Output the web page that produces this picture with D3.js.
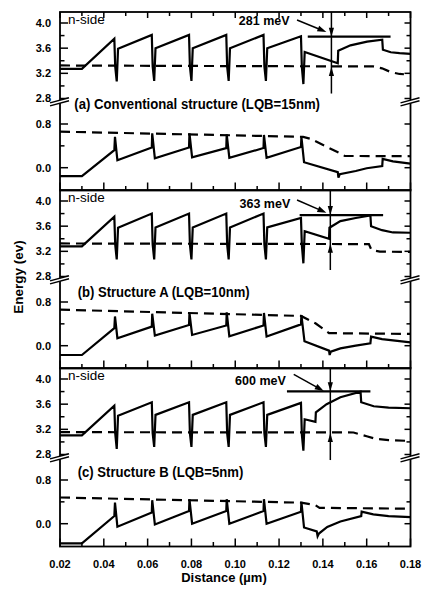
<!DOCTYPE html>
<html lang="en">
<head>
<meta charset="UTF-8" />
<title>Band diagrams</title>
<script src="https://d3js.org/d3.v7.min.js"></script>
<style>
  body { margin: 0; background: #fff; }
  svg text { font-family: "Liberation Sans", Arial, Helvetica, sans-serif; fill: #000; }
  .bold { font-weight: bold; }
  .frame { fill: none; stroke: #000; stroke-width: 1.8; }
  .tick { stroke: #000; stroke-width: 1.5; }
  .band { fill: none; stroke: #000; stroke-width: 2.2; stroke-linejoin: miter; }
  .fermi { fill: none; stroke: #000; stroke-width: 2.2; stroke-dasharray: 10,6; }
</style>
</head>
<body>
<div id="chart"></div>
<script>
// x ticks (µm)
const xMajor = [0.02, 0.04, 0.06, 0.08, 0.10, 0.12, 0.14, 0.16, 0.18];
const xMinor = [0.03, 0.05, 0.07, 0.09, 0.11, 0.13, 0.15, 0.17];
// energy ticks (eV), broken axis
const upMajor = [2.8, 3.2, 3.6, 4.0];
const upMinor = [3.0, 3.4, 3.8];
const loMajor = [0.0, 0.8];
const loMinor = [0.4];

const panelLabels = [
  '(a) Conventional structure (LQB=15nm)',
  '(b) Structure A (LQB=10nm)',
  '(c) Structure B (LQB=5nm)'
];

// conduction band (solid, upper part)
const cbA = [
  [0.020,3.27],[0.030,3.27],
  [0.0448,3.75],[0.0452,3.31],[0.0459,3.07],[0.0465,3.59],
  [0.0619,3.81],[0.0623,3.31],[0.0630,3.08],[0.0636,3.60],
  [0.0789,3.81],[0.0793,3.31],[0.0800,3.08],[0.0806,3.60],
  [0.0959,3.81],[0.0963,3.31],[0.0970,3.08],[0.0976,3.60],
  [0.1129,3.81],[0.1133,3.31],[0.1140,3.08],[0.1146,3.60],
  [0.1300,3.79],[0.1304,3.30],[0.1311,3.03],[0.1317,3.54],
  [0.1468,3.36],[0.1470,3.56],[0.1526,3.645],[0.1602,3.705],[0.1671,3.735],
  [0.1674,3.575],[0.1710,3.535],[0.1750,3.52],[0.1800,3.51]
];
const cbB = [
  [0.020,3.28],[0.030,3.28],
  [0.0448,3.75],[0.0452,3.31],[0.0459,3.07],[0.0465,3.575],
  [0.0619,3.80],[0.0623,3.31],[0.0630,3.07],[0.0636,3.58],
  [0.0789,3.80],[0.0793,3.31],[0.0800,3.07],[0.0806,3.58],
  [0.0959,3.80],[0.0963,3.31],[0.0970,3.07],[0.0976,3.58],
  [0.1129,3.80],[0.1133,3.31],[0.1140,3.07],[0.1146,3.58],
  [0.1300,3.73],[0.1304,3.30],[0.1311,3.01],[0.1317,3.52],
  [0.1428,3.40],[0.1430,3.575],[0.1480,3.68],[0.1550,3.73],[0.1617,3.77],
  [0.1620,3.60],[0.1670,3.536],[0.1720,3.50],[0.1800,3.495]
];
const cbC = [
  [0.020,3.105],[0.030,3.105],
  [0.0448,3.576],[0.0452,3.14],[0.0459,2.89],[0.0465,3.417],
  [0.0619,3.63],[0.0623,3.14],[0.0630,2.92],[0.0636,3.43],
  [0.0789,3.63],[0.0793,3.14],[0.0800,2.92],[0.0806,3.43],
  [0.0959,3.63],[0.0963,3.14],[0.0970,2.92],[0.0976,3.43],
  [0.1129,3.63],[0.1133,3.14],[0.1140,2.92],[0.1146,3.43],
  [0.1300,3.62],[0.1304,3.12],[0.1311,2.86],[0.1317,3.36],
  [0.1366,3.32],[0.1368,3.47],[0.1417,3.60],[0.1480,3.71],[0.1572,3.80],
  [0.1575,3.63],[0.1632,3.567],[0.1700,3.545],[0.1800,3.535]
];

// electron quasi-Fermi level (dashed, upper part)
const efnA = [[0.020,3.325],[0.100,3.315],[0.163,3.31],[0.167,3.28],[0.171,3.22],[0.175,3.19],[0.177,3.185]];
const efnB = [[0.020,3.325],[0.161,3.315],[0.1622,3.22],[0.166,3.195],[0.180,3.19]];
const efnC = [[0.020,3.155],[0.154,3.15],[0.160,3.09],[0.164,3.05],[0.170,3.03],[0.180,3.015]];

// valence band (solid, lower part)
const vbA = [
  [0.020,-0.155],[0.030,-0.155],
  [0.0448,0.32],[0.0451,0.565],[0.0462,0.135],
  [0.0619,0.37],[0.0621,0.63],[0.0633,0.17],
  [0.0789,0.37],[0.0791,0.63],[0.0803,0.19],
  [0.0959,0.36],[0.0961,0.61],[0.0973,0.18],
  [0.1129,0.36],[0.1131,0.60],[0.1143,0.18],
  [0.1300,0.38],[0.1302,0.566],[0.1314,0.10],
  [0.1468,-0.08],[0.1471,-0.18],[0.1477,-0.12],[0.1550,-0.06],[0.1600,-0.01],[0.1671,0.03],
  [0.1673,0.16],[0.1720,0.115],[0.1800,0.075]
];
const vbB = [
  [0.020,-0.17],[0.030,-0.17],
  [0.0448,0.32],[0.0451,0.535],[0.0462,0.137],
  [0.0619,0.35],[0.0621,0.585],[0.0633,0.185],
  [0.0789,0.38],[0.0791,0.60],[0.0803,0.197],
  [0.0959,0.37],[0.0961,0.61],[0.0973,0.17],
  [0.1129,0.37],[0.1131,0.60],[0.1143,0.17],
  [0.1300,0.39],[0.1302,0.56],[0.1316,0.08],
  [0.1428,-0.09],[0.1431,-0.17],[0.1436,-0.11],[0.1480,-0.05],[0.1550,0.0],[0.1617,0.044],
  [0.1620,0.166],[0.1670,0.12],[0.1800,0.06]
];
const vbC = [
  [0.020,-0.36],[0.030,-0.36],
  [0.0448,0.14],[0.0451,0.387],[0.0462,-0.055],
  [0.0619,0.203],[0.0621,0.43],[0.0633,-0.013],
  [0.0789,0.232],[0.0791,0.448],[0.0803,0.0],
  [0.0959,0.232],[0.0961,0.448],[0.0973,0.0],
  [0.1129,0.232],[0.1131,0.448],[0.1143,0.0],
  [0.1300,0.22],[0.1302,0.40],[0.1314,-0.07],
  [0.1372,-0.14],[0.1376,-0.23],[0.1382,-0.18],[0.1420,-0.06],[0.1480,0.04],[0.1575,0.14],
  [0.1577,0.22],[0.1630,0.17],[0.1700,0.14],[0.1800,0.12]
];

// hole quasi-Fermi level (dashed, lower part)
const efpA = [[0.020,0.66],[0.1310,0.565],[0.1343,0.53],[0.1480,0.26],[0.1500,0.215],[0.1800,0.21]];
const efpB = [[0.020,0.66],[0.1300,0.545],[0.1366,0.41],[0.1428,0.23],[0.1800,0.215]];
const efpC = [[0.020,0.48],[0.1300,0.385],[0.1366,0.34],[0.1385,0.29],[0.1800,0.275]];

// barrier height annotations
const annText  = ['281 meV', '363 meV', '600 meV'];
const annTextX = [0.1248, 0.1251, 0.1231];
const annTextV = [3.968, 3.884, 3.905];
const annArrowFrom = [[0.1282,4.048],[0.1282,4.016],[0.1267,4.075]];
const annArrowTo   = [[0.1416,3.857],[0.1416,3.814],[0.1404,3.809]];
const annBarV  = [3.782, 3.777, 3.804];
const annBarX  = [[0.1331,0.1709],[0.1294,0.1675],[0.1236,0.1617]];
const annMarkX = [0.1439, 0.1434, 0.1434];
const annMarkBottom = [2.879, 2.903, 2.712];
const annEfnV  = [3.30, 3.32, 3.14];

const panels = [
  { cb: cbA, efn: efnA, vb: vbA, efp: efpA },
  { cb: cbB, efn: efnB, vb: vbB, efp: efpB },
  { cb: cbC, efn: efnC, vb: vbC, efp: efpC }
];

const W = 423, H = 595;
const left = 60, right = 410.5;
const panelTop = [12, 190, 368], panelH = 178.5;
const breakOff = 88.5;
const labelBase = [109, 297, 476.7];
const labelWidth = [245.7, 172, 165.6];
const labelX = [74.3, 77.7, 77.7];

const svg = d3.select('#chart').append('svg')
  .attr('width', W).attr('height', H);

const x = d3.scaleLinear().domain([0.02, 0.18]).range([left, right]);

const line = (y) => d3.line().x(d => x(d[0])).y(d => y(d[1]));

function arrowHead(g, tx, ty, ang, len, hw) {
  // tip at (tx,ty), pointing along angle ang (radians)
  const bx = tx - len * Math.cos(ang), by = ty - len * Math.sin(ang);
  const px = -Math.sin(ang) * hw, py = Math.cos(ang) * hw;
  g.append('path')
    .attr('d', `M${tx},${ty}L${bx + px},${by + py}L${bx - px},${by - py}Z`)
    .attr('fill', '#000');
}

panels.forEach((p, i) => {
  const top = panelTop[i];
  const bottom = top + panelH;
  const yUp = d3.scaleLinear().domain([2.8, 4.0]).range([top + 86.5, top + 11]);
  const yLo = d3.scaleLinear().domain([0.0, 0.8]).range([top + 155.7, top + 112]);
  const g = svg.append('g');

  // curves
  g.append('path').datum(p.efn).attr('class', 'fermi').attr('d', line(yUp));
  g.append('path').datum(p.cb).attr('class', 'band').attr('d', line(yUp));
  g.append('path').datum(p.efp).attr('class', 'fermi').attr('d', line(yLo));
  g.append('path').datum(p.vb).attr('class', 'band').attr('d', line(yLo));

  // frame
  g.append('rect').attr('class', 'frame')
    .attr('x', left).attr('y', top).attr('width', right - left).attr('height', panelH);

  // y ticks, left and right, inward
  const yt = [];
  upMajor.forEach(v => yt.push({ y: yUp(v), major: true }));
  upMinor.forEach(v => yt.push({ y: yUp(v), major: false }));
  loMajor.forEach(v => yt.push({ y: yLo(v), major: true }));
  loMinor.forEach(v => yt.push({ y: yLo(v), major: false }));
  g.selectAll('.ytl').data(yt).join('line').attr('class', 'tick')
    .attr('x1', left).attr('x2', d => left + (d.major ? 8 : 4.5))
    .attr('y1', d => d.y).attr('y2', d => d.y);
  g.selectAll('.ytr').data(yt).join('line').attr('class', 'tick')
    .attr('x1', right).attr('x2', d => right - (d.major ? 6 : 4))
    .attr('y1', d => d.y).attr('y2', d => d.y);

  // y tick labels
  const labs = upMajor.map(v => ({ y: yUp(v), t: v.toFixed(1) }))
    .concat(loMajor.map(v => ({ y: yLo(v), t: v.toFixed(1) })));
  g.selectAll('.ylab').data(labs).join('text').attr('class', 'bold')
    .attr('x', 51).attr('y', d => d.y).attr('dy', '0.35em')
    .attr('text-anchor', 'end').attr('font-size', 11).text(d => d.t);

  // x ticks at bottom, inward
  const xt = xMajor.map(v => ({ v, major: true })).concat(xMinor.map(v => ({ v, major: false })));
  g.selectAll('.xtb').data(xt).join('line').attr('class', 'tick')
    .attr('x1', d => x(d.v)).attr('x2', d => x(d.v))
    .attr('y1', bottom).attr('y2', d => bottom - (d.major ? 8 : 4.5));
  if (i === 0) {
    g.selectAll('.xtt').data(xt).join('line').attr('class', 'tick')
      .attr('x1', d => x(d.v)).attr('x2', d => x(d.v))
      .attr('y1', top).attr('y2', d => top + (d.major ? 6 : 4));
  }

  // axis breaks
  const yb = top + breakOff;
  [left, right].forEach(ax => {
    g.append('path')
      .attr('d', `M${ax - 9},${yb + 2.2}L${ax + 9},${yb - 2.8}L${ax + 9},${yb + 0.2}L${ax - 9},${yb + 5.2}Z`)
      .attr('fill', '#fff');
    g.append('line').attr('class', 'tick')
      .attr('x1', ax - 10).attr('y1', yb + 2.4).attr('x2', ax + 9).attr('y2', yb - 2.8);
    g.append('line').attr('class', 'tick')
      .attr('x1', ax - 10).attr('y1', yb + 5.4).attr('x2', ax + 9).attr('y2', yb + 0.2);
  });

  // n-side label
  g.append('text').attr('x', 68).attr('y', yUp(4.0) + 0.5)
    .attr('font-size', 13.5).text('n-side');

  // panel label
  g.append('text').attr('class', 'bold')
    .attr('x', labelX[i]).attr('y', labelBase[i])
    .attr('font-size', 14)
    .attr('textLength', labelWidth[i]).attr('lengthAdjust', 'spacingAndGlyphs')
    .text(panelLabels[i]);

  // barrier annotation
  const mx = x(annMarkX[i]);
  g.append('line').attr('stroke', '#000').attr('stroke-width', 2.2)
    .attr('x1', x(annBarX[i][0])).attr('x2', x(annBarX[i][1]))
    .attr('y1', yUp(annBarV[i])).attr('y2', yUp(annBarV[i]));
  g.append('line').attr('stroke', '#000').attr('stroke-width', 1.5)
    .attr('x1', mx).attr('x2', mx)
    .attr('y1', top).attr('y2', yUp(annMarkBottom[i]));
  arrowHead(g, mx, yUp(annBarV[i]), Math.PI / 2, 9, 2.6);
  arrowHead(g, mx, yUp(annEfnV[i]), -Math.PI / 2, 9, 2.6);

  const f = annArrowFrom[i], t = annArrowTo[i];
  const fx = x(f[0]), fy = yUp(f[1]), tx = x(t[0]), ty = yUp(t[1]);
  const ang = Math.atan2(ty - fy, tx - fx);
  g.append('line').attr('stroke', '#000').attr('stroke-width', 1.5)
    .attr('x1', fx).attr('y1', fy)
    .attr('x2', tx - 6 * Math.cos(ang)).attr('y2', ty - 6 * Math.sin(ang));
  arrowHead(g, tx, ty, ang, 9, 3);

  g.append('text').attr('class', 'bold')
    .attr('x', x(annTextX[i])).attr('y', yUp(annTextV[i]))
    .attr('text-anchor', 'end').attr('font-size', 12.5)
    .text(annText[i]);

  // x tick labels on the bottom panel
  if (i === 2) {
    svg.selectAll('.xlab').data(xMajor).join('text').attr('class', 'bold')
      .attr('x', d => x(d)).attr('y', bottom + 21.5)
      .attr('text-anchor', 'middle').attr('font-size', 11)
      .text(d => d.toFixed(2));
  }
});

svg.append('text').attr('class', 'bold')
  .attr('x', 224).attr('y', 582).attr('text-anchor', 'middle')
  .attr('font-size', 13).text('Distance (\u00b5m)');

svg.append('text').attr('class', 'bold')
  .attr('transform', 'translate(23,277) rotate(-90)')
  .attr('text-anchor', 'middle').attr('font-size', 13.5)
  .text('Energy (ev)');
</script>
</body>
</html>
